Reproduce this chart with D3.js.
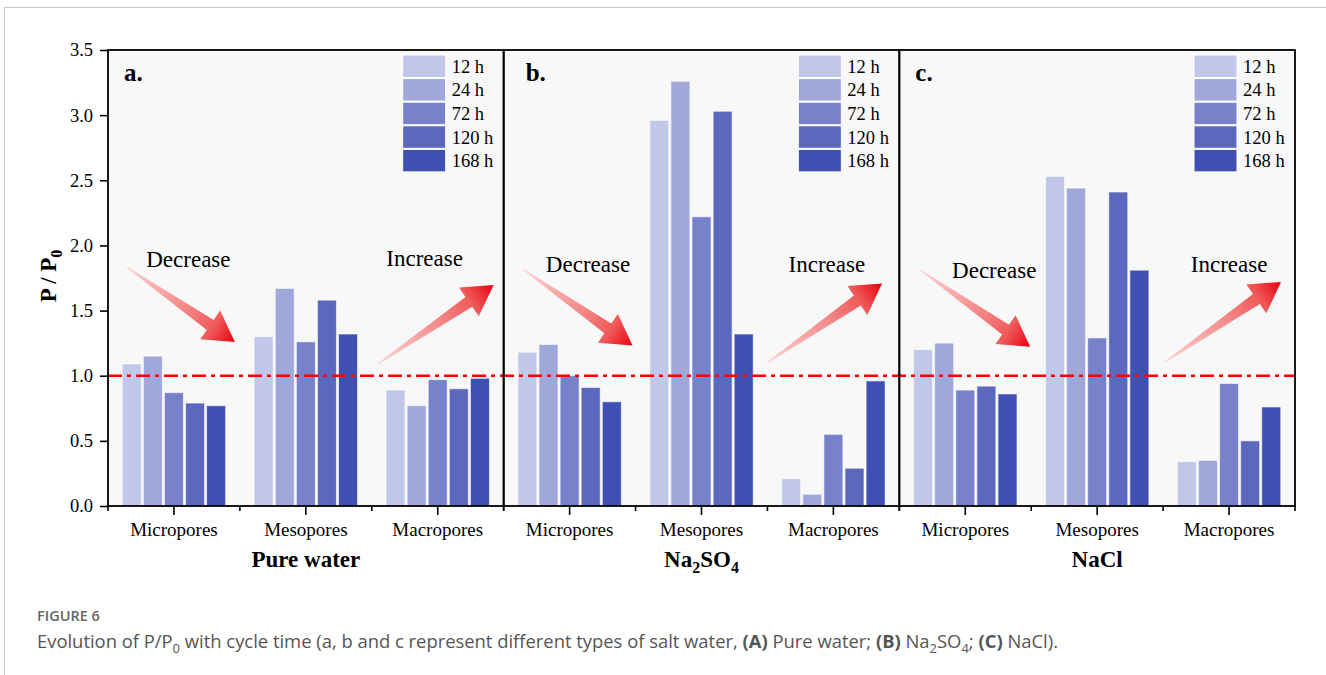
<!DOCTYPE html>
<html>
<head>
<meta charset="utf-8">
<script src="https://cdn.jsdelivr.net/npm/d3@7"></script>
<style>
  body { margin: 0; background: #fff; }
  svg { display: block; }
  .serif { font-family: "Liberation Serif", "Times New Roman", serif; }
</style>
</head>
<body>
<svg id="chart" width="1326" height="675"></svg>
<script>
// data
const panels = ["Pure water", "Na2SO4", "NaCl"];
const panelTags = ["a.", "b.", "c."];
const pores = ["Micropores", "Mesopores", "Macropores"];
const times = ["12 h", "24 h", "72 h", "120 h", "168 h"];
const pureWater = [[1.09, 1.15, 0.87, 0.79, 0.77], [1.30, 1.67, 1.26, 1.58, 1.32], [0.89, 0.77, 0.97, 0.90, 0.98]];
const na2so4 = [[1.18, 1.24, 1.00, 0.91, 0.80], [2.96, 3.26, 2.22, 3.03, 1.32], [0.21, 0.09, 0.55, 0.29, 0.96]];
const nacl = [[1.20, 1.25, 0.89, 0.92, 0.86], [2.53, 2.44, 1.29, 2.41, 1.81], [0.34, 0.35, 0.94, 0.50, 0.76]];
const yTicks = [0, 0.5, 1.0, 1.5, 2.0, 2.5, 3.0, 3.5];
const refValue = 1.0;

const values = [pureWater, na2so4, nacl];
const colors = ["#c1c7e8", "#a0a7da", "#7782ca", "#5c68bd", "#3f4fb2"];

// annotation arrows, x in group units (0..3), y in P/P0 units
const decreaseArrows = [[0.144, 1.833, 0.962, 1.258], [0.149, 1.815, 0.977, 1.232], [0.161, 1.81, 0.992, 1.222]];
const increaseArrows = [[2.045, 1.089, 2.924, 1.697], [1.998, 1.099, 2.869, 1.708], [2.015, 1.106, 2.894, 1.72]];
const decreaseText = [[0.29, 1.89], [0.32, 1.85], [0.40, 1.81]];
const increaseText = [[2.11, 1.90], [2.16, 1.85], [2.21, 1.85]];

const svg = d3.select("#chart");
const pad = {top: 50, left: 108, right: 31, bottom: 169};
const width = 1326 - pad.left - pad.right;
const height = 675 - pad.top - pad.bottom;

// outer page frame
svg.append("rect")
  .attr("x", 4.5).attr("y", 7.5)
  .attr("width", 1400).attr("height", 700)
  .attr("fill", "none").attr("stroke", "#c8c8c8");

const plot = svg.append("g").attr("transform", `translate(${pad.left}, ${pad.top})`);

const px = d3.scaleBand().domain(panels).range([0, width]);
const y = d3.scaleLinear().domain([0, 3.5]).range([height, 0]);
const pw = px.bandwidth();
const xg = d3.scaleBand().domain(pores).range([0, pw]).paddingInner(0.2).paddingOuter(0.1);
const xb = d3.scaleBand().domain(times).range([0, xg.bandwidth()]).paddingInner(0.1).paddingOuter(0.05);
const xu = d3.scaleLinear().domain([0, 3]).range([0, pw]);

const defs = svg.append("defs");

function arrowPath(x1, y1, x2, y2) {
  const dx = x2 - x1, dy = y2 - y1, len = Math.hypot(dx, dy);
  const ux = dx / len, uy = dy / len, nx = -uy, ny = ux;
  const headLen = 30, headHalf = 17.5, shaftHalf = 6, tailHalf = 0.6;
  const bx = x2 - ux * headLen, by = y2 - uy * headLen;
  const pts = [
    [x1 + nx * tailHalf, y1 + ny * tailHalf],
    [bx + nx * shaftHalf, by + ny * shaftHalf],
    [bx + nx * headHalf, by + ny * headHalf],
    [x2, y2],
    [bx - nx * headHalf, by - ny * headHalf],
    [bx - nx * shaftHalf, by - ny * shaftHalf],
    [x1 - nx * tailHalf, y1 - ny * tailHalf]
  ];
  return d3.line()(pts) + "Z";
}

panels.forEach((name, pi) => {
  const g = plot.append("g").attr("transform", `translate(${px(name)}, 0)`);

  g.append("rect")
    .attr("width", pw).attr("height", height)
    .attr("fill", "#f8f8f8");

  // bars
  const groups = g.selectAll("g.group")
    .data(pores)
    .enter().append("g")
      .attr("class", "group")
      .attr("transform", d => `translate(${xg(d)}, 0)`);

  groups.selectAll("rect")
    .data((d, gi) => values[pi][gi].map((v, ti) => ({t: times[ti], v: v})))
    .enter().append("rect")
      .attr("x", d => xb(d.t))
      .attr("y", d => y(d.v))
      .attr("width", xb.bandwidth())
      .attr("height", d => y(0) - y(d.v))
      .attr("fill", (d, i) => colors[i])
      .attr("stroke", "#ffffff")
      .attr("stroke-opacity", 0.6)
      .attr("stroke-width", 1);

  // x axis
  const ax = g.append("g")
    .attr("transform", `translate(0, ${height})`)
    .call(d3.axisBottom(d3.scaleBand().domain(pores).range([0, pw])).tickSize(9).tickPadding(8));
  ax.select(".domain").remove();
  ax.selectAll(".tick line").attr("stroke", "#000").attr("stroke-width", 1.6);
  ax.selectAll("text")
    .attr("class", "serif")
    .style("font-size", "19px")
    .attr("fill", "#000");

  // minor ticks at group boundaries
  g.selectAll("line.minor")
    .data([0, 1, 2, 3])
    .enter().append("line")
      .attr("class", "minor")
      .attr("x1", d => xu(d)).attr("x2", d => xu(d))
      .attr("y1", height).attr("y2", height + 5)
      .attr("stroke", "#000").attr("stroke-width", 1.6);

  // arrows (gradient in the panel's own coordinates)
  [decreaseArrows[pi], increaseArrows[pi]].forEach((a, ai) => {
    const x1 = xu(a[0]), y1 = y(a[1]), x2 = xu(a[2]), y2 = y(a[3]);
    const id = `grad-${pi}-${ai}`;
    const grad = defs.append("linearGradient")
      .attr("id", id)
      .attr("gradientUnits", "userSpaceOnUse")
      .attr("x1", x1).attr("y1", y1)
      .attr("x2", x2).attr("y2", y2);
    grad.append("stop").attr("offset", 0).attr("stop-color", "#fbd6d6");
    grad.append("stop").attr("offset", 0.55).attr("stop-color", "#f48686");
    grad.append("stop").attr("offset", 0.8).attr("stop-color", "#f05a5a");
    grad.append("stop").attr("offset", 1).attr("stop-color", "#e8000e");
    g.append("path")
      .attr("d", arrowPath(x1, y1, x2, y2))
      .attr("fill", `url(#${id})`);
  });

  g.append("text")
    .attr("class", "serif")
    .attr("x", xu(decreaseText[pi][0])).attr("y", y(decreaseText[pi][1]))
    .attr("dy", "0.32em")
    .style("font-size", "23px")
    .text("Decrease");

  g.append("text")
    .attr("class", "serif")
    .attr("x", xu(increaseText[pi][0])).attr("y", y(increaseText[pi][1]))
    .attr("dy", "0.32em")
    .style("font-size", "23px")
    .text("Increase");

  // panel tag
  g.append("text")
    .attr("class", "serif")
    .attr("x", pi === 1 ? 22 : 16).attr("y", 31)
    .style("font-size", "25px")
    .style("font-weight", "bold")
    .text(panelTags[pi]);

  // legend
  const leg = g.append("g").attr("transform", `translate(${pw - 101}, 5)`);
  leg.selectAll("rect")
    .data(times)
    .enter().append("rect")
      .attr("x", 0)
      .attr("y", (d, i) => i * 23.6)
      .attr("width", 43).attr("height", 22.5)
      .attr("fill", (d, i) => colors[i])
      .attr("stroke", "#fff").attr("stroke-width", 1);
  leg.selectAll("text")
    .data(times)
    .enter().append("text")
      .attr("class", "serif")
      .attr("x", 49)
      .attr("y", (d, i) => i * 23.6 + 11.25)
      .attr("dy", "0.35em")
      .style("font-size", "18.5px")
      .text(d => d);

  // panel title
  const title = g.append("text")
    .attr("class", "serif")
    .attr("x", pw / 2).attr("y", height + 67)
    .attr("text-anchor", "middle")
    .style("font-size", "23px")
    .style("font-weight", "bold");
  name.split(/(\d)/).filter(s => s).forEach(s => {
    if (/\d/.test(s)) {
      title.append("tspan").attr("dy", 6).style("font-size", "16px").text(s);
    } else {
      title.append("tspan").attr("dy", title.selectAll("tspan").size() ? -6 : 0).text(s);
    }
  });
});

// reference line
plot.append("line")
  .attr("x1", 0).attr("x2", width)
  .attr("y1", y(refValue)).attr("y2", y(refValue))
  .attr("stroke", "#ff0000")
  .attr("stroke-width", 2.6)
  .attr("stroke-dasharray", "14 5 4 5");

// panel frames
panels.forEach(name => {
  plot.append("rect")
    .attr("x", px(name)).attr("y", 0)
    .attr("width", pw).attr("height", height)
    .attr("fill", "none")
    .attr("stroke", "#000")
    .attr("stroke-width", 1.8);
});

// y axis
const ay = plot.append("g")
  .call(d3.axisLeft(y).tickValues(yTicks).tickFormat(d3.format(".1f")).tickSize(8).tickPadding(7));
ay.select(".domain").remove();
ay.selectAll(".tick line").attr("stroke", "#000").attr("stroke-width", 1.6);
ay.selectAll("text")
  .attr("class", "serif")
  .style("font-size", "18.5px")
  .attr("fill", "#000");

const ylab = svg.append("text")
  .attr("class", "serif")
  .attr("transform", `translate(56, ${pad.top + height / 2 - 2}) rotate(-90)`)
  .attr("text-anchor", "middle")
  .style("font-size", "23px")
  .style("font-weight", "bold");
ylab.append("tspan").text("P / P");
ylab.append("tspan").attr("dy", 6).style("font-size", "16px").text("0");

// caption
svg.append("text")
  .attr("x", 37).attr("y", 621)
  .style("font-family", "'Open Sans', 'Noto Sans', sans-serif")
  .style("font-size", "14.5px")
  .style("font-weight", 600)
  .attr("fill", "#666")
  .text("FIGURE 6");

const cap = svg.append("text")
  .attr("x", 37).attr("y", 648)
  .style("font-family", "'Open Sans', 'Noto Sans', sans-serif")
  .style("font-size", "18.4px")
  .attr("fill", "#555");
const capParts = [
  ["Evolution of P/P", 0, 0], ["0", 1, 0],
  [" with cycle time (a, b and c represent different types of salt water, ", -1, 0],
  ["(A)", 0, 1], [" Pure water; ", 0, 0], ["(B)", 0, 1], [" Na", 0, 0], ["2", 1, 0],
  ["SO", -1, 0], ["4", 1, 0], ["; ", -1, 0], ["(C)", 0, 1], [" NaCl).", 0, 0]
];
capParts.forEach(([s, sub, bold]) => {
  const t = cap.append("tspan").text(s);
  if (sub === 1) t.attr("dy", 5).style("font-size", "13px");
  if (sub === -1) t.attr("dy", -5);
  if (bold) t.style("font-weight", 700);
});
</script>
</body>
</html>
